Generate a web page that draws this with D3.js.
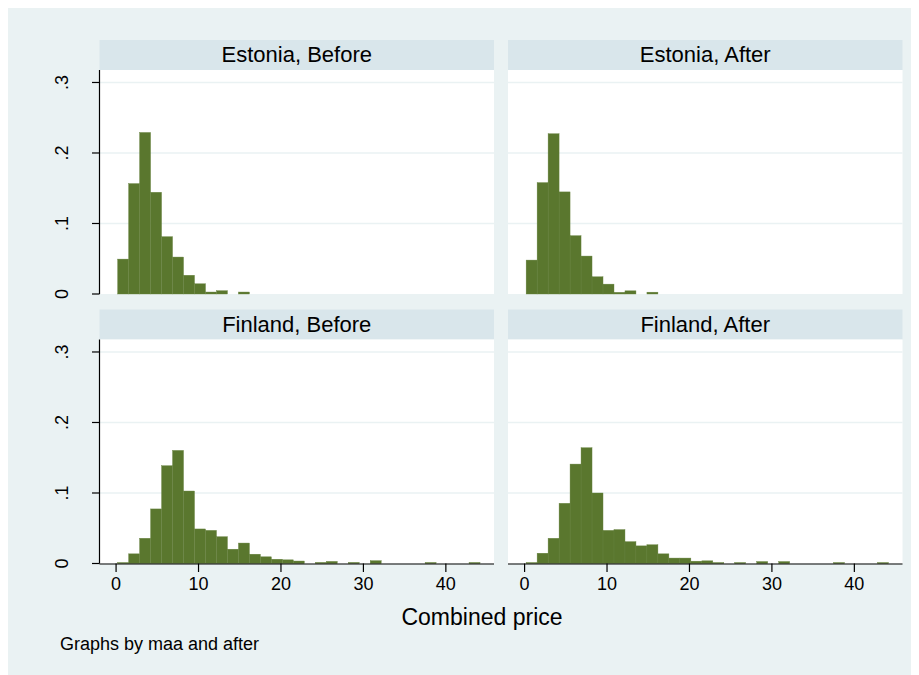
<!DOCTYPE html>
<html>
<head>
<meta charset="utf-8">
<script src="https://cdn.jsdelivr.net/npm/d3@7"></script>
<style>
  html, body { margin: 0; padding: 0; background: #ffffff; }
  svg { display: block; }
  text { font-family: "Liberation Sans", Arial, Helvetica, sans-serif; fill: #000; }
</style>
</head>
<body>
<svg id="chart" width="919" height="675"></svg>
<script>
// Histogram bins (lower edge of first bin and common bin width, in price units)
const binStart = 0.25;
const binWidth = 1.332;

// Panel titles, in reading order
const panelTitles = ["Estonia, Before", "Estonia, After", "Finland, Before", "Finland, After"];

// Density of each bin, per panel
const estoniaBefore = [0.0495, 0.1566, 0.2291, 0.1443, 0.0813, 0.0524, 0.0266, 0.0145, 0.0028, 0.0047, 0, 0.0028,
  0, 0, 0, 0, 0, 0, 0, 0, 0, 0, 0, 0, 0, 0, 0, 0, 0, 0, 0, 0, 0];
const estoniaAfter = [0.0481, 0.1580, 0.2273, 0.1448, 0.0827, 0.0538, 0.0244, 0.0140, 0.0024, 0.0045, 0, 0.0026,
  0, 0, 0, 0, 0, 0, 0, 0, 0, 0, 0, 0, 0, 0, 0, 0, 0, 0, 0, 0, 0];
const finlandBefore = [0.0014, 0.0137, 0.0358, 0.0774, 0.1387, 0.1604, 0.1028, 0.0490, 0.0470, 0.0380, 0.0203,
  0.0290, 0.0132, 0.0095, 0.0061, 0.0052, 0.0035, 0, 0.0016, 0.0030, 0, 0.0016, 0, 0.0040, 0, 0, 0, 0, 0.0015,
  0, 0, 0, 0.0015];
const finlandAfter = [0.0014, 0.0146, 0.0358, 0.0854, 0.1410, 0.1642, 0.1000, 0.0470, 0.0481, 0.0310, 0.0250,
  0.0266, 0.0137, 0.0077, 0.0077, 0.0033, 0.0038, 0.0014, 0, 0.0014, 0, 0.0028, 0, 0.0028, 0, 0, 0, 0, 0.0014,
  0, 0, 0, 0.0014];

// Axis ticks and labels
const yTicks = [0, 0.1, 0.2, 0.3];
const yTickLabels = ["0", ".1", ".2", ".3"];
const xTicks = [0, 10, 20, 30, 40];
const xTitle = "Combined price";
const note = "Graphs by maa and after";

const panelValues = [estoniaBefore, estoniaAfter, finlandBefore, finlandAfter];

// Layout
const svg = d3.select("#chart");
const W = 919, H = 675;
const colX = [99.5, 508];
const plotW = 394.5;
const stripH = 30;
const rowTop = [40, 309.5];   // top of strip
const plotH = 224;

const bg = "#eaf2f3", stripFill = "#d9e6eb", grid = "#eaf2f3";
const barFill = "#5a772e", barEdge = "#66823f";

svg.append("rect").attr("x", 0).attr("y", 0).attr("width", W).attr("height", H).attr("fill", "#fff");
svg.append("rect").attr("x", 8).attr("y", 8).attr("width", W - 16).attr("height", H - 8).attr("fill", bg);

const xDomain = [-1.95, 45.9];
const yDomain = [0, 0.3177];

panelValues.forEach((vals, i) => {
  const col = i % 2, row = Math.floor(i / 2);
  const x0 = colX[col];
  const stripY = rowTop[row];
  const py = stripY + stripH;

  const x = d3.scaleLinear().domain(xDomain).range([x0, x0 + plotW]);
  const y = d3.scaleLinear().domain(yDomain).range([py + plotH, py]);

  const g = svg.append("g");

  // strip
  g.append("rect").attr("x", x0).attr("y", stripY).attr("width", plotW).attr("height", stripH)
    .attr("fill", stripFill);
  g.append("text").attr("x", x0 + plotW / 2).attr("y", stripY + 22)
    .attr("text-anchor", "middle").style("font-size", "22px").text(panelTitles[i]);

  // plot region
  g.append("rect").attr("x", x0).attr("y", py).attr("width", plotW).attr("height", plotH)
    .attr("fill", "#fff");

  // gridlines
  g.selectAll(".grid").data(yTicks.filter(t => t > 0)).join("line")
    .attr("x1", x0).attr("x2", x0 + plotW)
    .attr("y1", d => y(d)).attr("y2", d => y(d))
    .attr("stroke", grid).attr("stroke-width", 1.6);

  // bars
  const bins = vals.map((v, k) => ({ lo: binStart + k * binWidth, hi: binStart + (k + 1) * binWidth, v }))
    .filter(b => b.v > 0);
  g.selectAll(".bar").data(bins).join("rect")
    .attr("x", d => x(d.lo)).attr("width", d => x(d.hi) - x(d.lo))
    .attr("y", d => y(d.v)).attr("height", d => y(0) - y(d.v))
    .attr("fill", barFill).attr("stroke", barEdge).attr("stroke-width", 0.4);

  // y axis on the left column
  if (col === 0) {
    const ya = g.append("g").attr("transform", `translate(${x0},0)`);
    ya.append("line").attr("x1", 0).attr("x2", 0).attr("y1", py).attr("y2", py + plotH)
      .attr("stroke", "#000").attr("stroke-width", 1.2);
    yTicks.forEach((t, k) => {
      ya.append("line").attr("x1", -7.5).attr("x2", 0).attr("y1", y(t)).attr("y2", y(t))
        .attr("stroke", "#000").attr("stroke-width", 1.2);
      ya.append("text")
        .attr("transform", `translate(${-32},${y(t)}) rotate(-90)`)
        .attr("text-anchor", "middle").style("font-size", "18px").text(yTickLabels[k]);
    });
  }

  // x axis on the bottom row
  if (row === 1) {
    const xa = g.append("g").attr("transform", `translate(0,${py + plotH})`)
      .call(d3.axisBottom(x).tickValues(xTicks).tickSize(8.5).tickPadding(5).tickFormat(d3.format("d")));
    xa.select(".domain").attr("d", `M${x0},0.5H${x0 + plotW}`).attr("stroke", "#000").attr("stroke-width", 1.2);
    xa.selectAll(".tick line").attr("stroke", "#000").attr("stroke-width", 1.2);
    xa.selectAll(".tick text").style("font-size", "18px")
      .style("font-family", "'Liberation Sans', Arial, sans-serif").attr("fill", "#000");
  }
});

// axis title and note
svg.append("text").attr("x", 482).attr("y", 625).attr("text-anchor", "middle")
  .style("font-size", "23px").text(xTitle);
svg.append("text").attr("x", 60).attr("y", 650).style("font-size", "18px").text(note);
</script>
</body>
</html>
